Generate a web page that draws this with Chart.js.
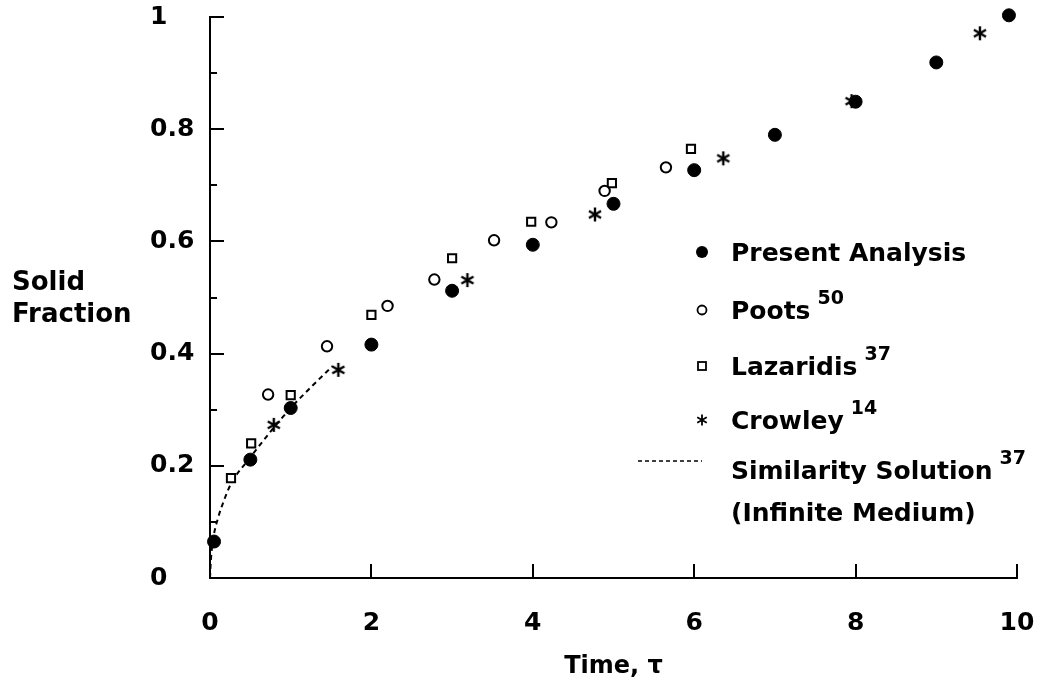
<!DOCTYPE html>
<html>
<head>
<meta charset="utf-8">
<script src="https://cdn.jsdelivr.net/npm/chart.js"></script>
<style>
body { margin: 0; background: #fff; }
canvas { display: block; }
</style>
</head>
<body>
<canvas id="solidfraction_chart" width="1039" height="685"></canvas>
<script>
// values (time tau, solid fraction)
var presentT = [0.05, 0.5, 1, 2, 3, 4, 5, 6, 7, 8, 9, 9.9];
var presentF = [0.065, 0.211, 0.303, 0.416, 0.512, 0.594, 0.667, 0.727, 0.79, 0.849, 0.919, 1.003];

var pootsT = [0.72, 1.45, 2.2, 2.78, 3.52, 4.23, 4.89, 5.65];
var pootsF = [0.327, 0.413, 0.485, 0.532, 0.602, 0.634, 0.69, 0.732];

var lazaridisT = [0.26, 0.51, 1.0, 2.0, 3.0, 3.98, 4.98, 5.96];
var lazaridisF = [0.178, 0.24, 0.326, 0.469, 0.57, 0.635, 0.704, 0.765];

var crowleyT = [0.79, 1.59, 3.19, 4.77, 6.36, 7.95, 9.54];
var crowleyF = [0.273, 0.371, 0.531, 0.648, 0.748, 0.85, 0.971];

var similarityT = [0, 0.01, 0.04, 0.1, 0.17, 0.26, 0.5, 0.79, 1.0, 1.25, 1.52];
var similarityF = [0, 0.03, 0.07, 0.107, 0.137, 0.168, 0.215, 0.268, 0.303, 0.34, 0.378];

var legendNames = ['Present Analysis', 'Poots', 'Lazaridis', 'Crowley', 'Similarity Solution'];
var legendRefs = ['', '50', '37', '14', '37'];
var legendNote = '(Infinite Medium)';

var yAxisTitle = ['Solid', 'Fraction'];
var xAxisTitle = 'Time, \u03c4';

var FONT = '"DejaVu Sans", sans-serif';
Chart.defaults.font.family = FONT;
Chart.defaults.color = '#000';

function pts(xs, ys) {
    return xs.map(function(x, i){ return {x: x, y: ys[i]}; });
}

// six armed asterisk like the printed one
function drawAsterisk(ctx, x, y, r, lw) {
    ctx.save();
    ctx.strokeStyle = '#000';
    ctx.lineWidth = lw;
    ctx.beginPath();
    for (var k = 0; k < 3; k++) {
        var a = Math.PI / 2 + k * Math.PI / 3;
        ctx.moveTo(x - r * Math.cos(a), y - r * Math.sin(a));
        ctx.lineTo(x + r * Math.cos(a), y + r * Math.sin(a));
    }
    ctx.stroke();
    ctx.restore();
}

var starImg = document.createElement('canvas');
starImg.width = 18;
starImg.height = 18;
drawAsterisk(starImg.getContext('2d'), 9, 9, 7, 2.4);

var decorations = {
    id: 'decorations',
    afterDraw: function(chart) {
        var ctx = chart.ctx;
        var xs = chart.scales.x;
        var ys = chart.scales.y;
        var area = chart.chartArea;
        ctx.save();
        ctx.strokeStyle = '#000';
        ctx.lineWidth = 2;

        // ticks point into the plot
        ctx.beginPath();
        ys.ticks.forEach(function(t){
            if (t.value === 0) return;
            var py = Math.round(ys.getPixelForValue(t.value));
            var len = t.label ? 14 : 7;
            ctx.moveTo(area.left, py);
            ctx.lineTo(area.left + len, py);
        });
        xs.ticks.forEach(function(t){
            if (t.value === 0) return;
            var px = Math.round(xs.getPixelForValue(t.value));
            ctx.moveTo(px, area.bottom);
            ctx.lineTo(px, area.bottom - 14);
        });
        ctx.stroke();

        // horizontal y title
        ctx.fillStyle = '#000';
        ctx.textAlign = 'left';
        ctx.textBaseline = 'alphabetic';
        ctx.font = 'bold 26px ' + FONT;
        ctx.fillText(yAxisTitle[0], 12, 290);
        ctx.fillText(yAxisTitle[1], 12, 322);

        // legend
        var mx = 702, tx = 731;
        var rowY = [252, 310, 366, 420, 470];
        legendNames.forEach(function(name, i){
            var cy = rowY[i];
            var base = cy + 9;
            if (i === 0) {
                ctx.beginPath();
                ctx.arc(mx, cy, 6, 0, Math.PI * 2);
                ctx.fill();
            } else if (i === 1) {
                ctx.beginPath();
                ctx.lineWidth = 1.8;
                ctx.arc(mx, cy, 4.5, 0, Math.PI * 2);
                ctx.stroke();
            } else if (i === 2) {
                ctx.lineWidth = 1.8;
                ctx.strokeRect(mx - 4, cy - 4, 8, 8);
            } else if (i === 3) {
                drawAsterisk(ctx, mx, cy, 5.5, 1.8);
            } else {
                ctx.save();
                ctx.lineWidth = 1.6;
                ctx.setLineDash([4, 3]);
                ctx.beginPath();
                ctx.moveTo(638, cy - 9);
                ctx.lineTo(702, cy - 9);
                ctx.stroke();
                ctx.restore();
            }
            ctx.font = 'bold 25px ' + FONT;
            ctx.fillText(name, tx, base);
            if (legendRefs[i]) {
                var w = ctx.measureText(name).width;
                ctx.font = 'bold 19px ' + FONT;
                ctx.fillText(legendRefs[i], tx + w + 7, base - 15);
            }
        });
        ctx.font = 'bold 25px ' + FONT;
        ctx.fillText(legendNote, tx, rowY[4] + 9 + 42);
        ctx.restore();
    }
};

const dt = {
    datasets: [
    {
        label: 'Present Analysis',
        data: pts(presentT, presentF),
        pointStyle: 'circle',
        pointRadius: 6.5,
        pointBackgroundColor: '#000',
        pointBorderColor: '#000',
        pointBorderWidth: 1,
        showLine: false,
        clip: false
    },
    {
        label: 'Poots',
        data: pts(pootsT, pootsF),
        pointStyle: 'circle',
        pointRadius: 5.2,
        pointBackgroundColor: '#fff',
        pointBorderColor: '#000',
        pointBorderWidth: 2,
        showLine: false,
        clip: false
    },
    {
        label: 'Lazaridis',
        data: pts(lazaridisT, lazaridisF),
        pointStyle: 'rect',
        pointRadius: 5.8,
        pointBackgroundColor: '#fff',
        pointBorderColor: '#000',
        pointBorderWidth: 2,
        showLine: false,
        clip: false
    },
    {
        label: 'Crowley',
        data: pts(crowleyT, crowleyF),
        pointStyle: starImg,
        showLine: false,
        clip: false
    },
    {
        label: 'Similarity Solution',
        data: pts(similarityT, similarityF),
        showLine: true,
        pointRadius: 0,
        borderColor: '#000',
        borderWidth: 2,
        borderDash: [5, 4],
        cubicInterpolationMode: 'monotone',
        fill: false,
        clip: false
    }
    ]
};

const config_solidfraction = {
    type: 'scatter',
    data: dt,
    plugins: [decorations],
    options: {
        responsive: false,
        animation: false,
        events: [],
        layout: { padding: { left: 150, top: 17, right: 22, bottom: 0 } },
        plugins: {
            legend: { display: false },
            tooltip: { enabled: false }
        },
        scales: {
            x: {
                type: 'linear',
                min: 0,
                max: 10,
                ticks: {
                    stepSize: 2,
                    color: '#000',
                    font: { size: 25, weight: 'bold' },
                    padding: 22,
                    maxRotation: 0,
                    autoSkip: false
                },
                grid: { display: false },
                border: { display: true, color: '#000', width: 2 },
                title: {
                    display: true,
                    text: xAxisTitle,
                    color: '#000',
                    font: { size: 24, weight: 'bold' },
                    padding: { top: 0, bottom: 4 }
                },
                afterFit: function(s){
                    s.height = 685 - 578;
                    s.paddingLeft = 0;
                    s.paddingRight = 0;
                }
            },
            y: {
                type: 'linear',
                min: 0,
                max: 1,
                ticks: {
                    stepSize: 0.1,
                    crossAlign: 'far',
                    color: '#000',
                    font: { size: 25, weight: 'bold' },
                    autoSkip: false,
                    callback: function(value){
                        var tenth = Math.round(value * 10);
                        return tenth % 2 === 0 ? String(tenth / 10) : '';
                    }
                },
                grid: { display: false },
                border: { display: true, color: '#000', width: 2 },
                afterFit: function(s){
                    s.width = 60;
                    s.paddingTop = 0;
                    s.paddingBottom = 0;
                }
            }
        }
    }
};

const solidfraction_chart = new Chart(
    document.getElementById('solidfraction_chart'),
    config_solidfraction
);
</script>
</body>
</html>
